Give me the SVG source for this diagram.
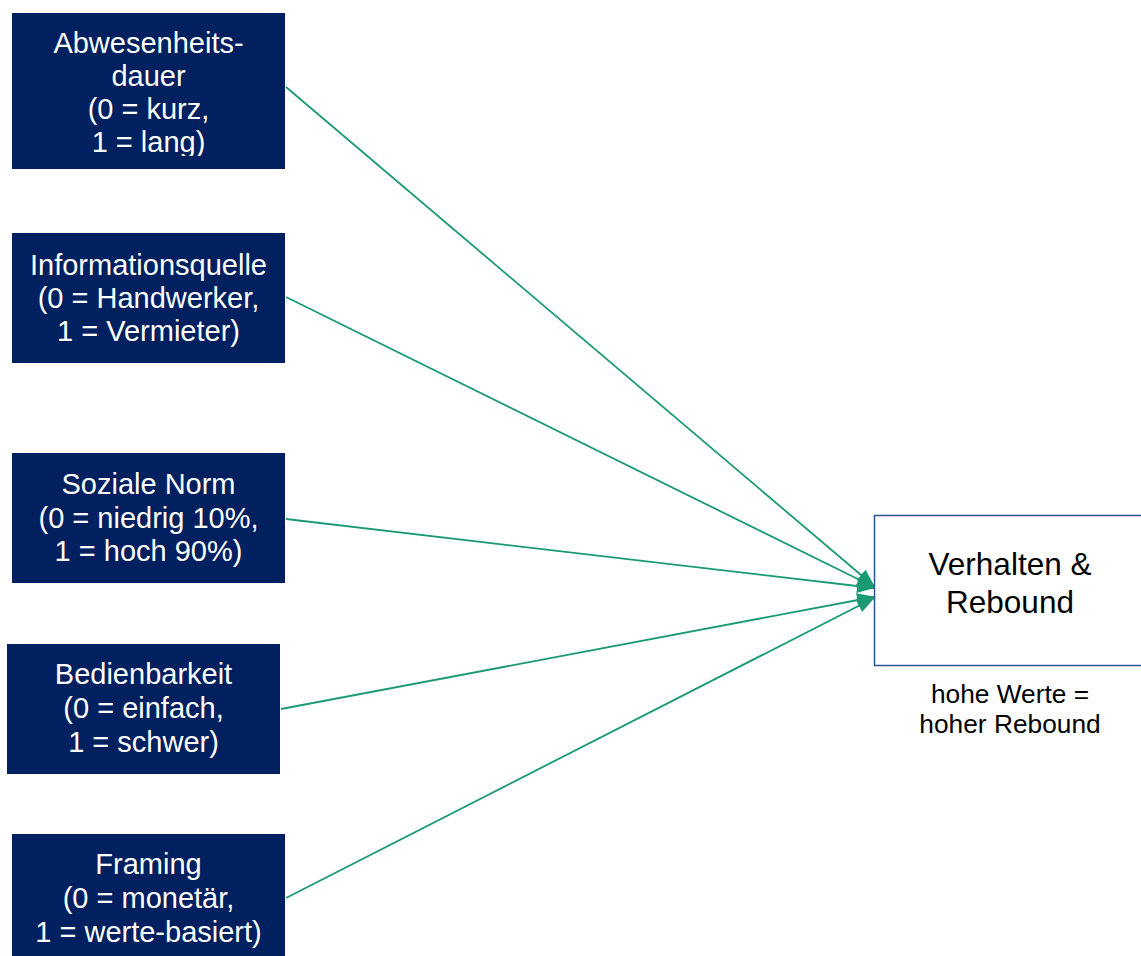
<svg xmlns="http://www.w3.org/2000/svg" width="1141" height="956" viewBox="0 0 1141 956">
<style>
.node{fill:#002060}
.nt{font-family:"Liberation Sans",Arial,sans-serif;font-size:29px;fill:#fff;text-anchor:middle}
.tt{font-family:"Liberation Sans",Arial,sans-serif;font-size:31.5px;fill:#000;text-anchor:middle}
.st{font-family:"Liberation Sans",Arial,sans-serif;font-size:26.3px;fill:#000;text-anchor:middle}
.edge{stroke:#1A9A73;stroke-width:1.8;fill:none;marker-end:url(#ah)}
</style>
<defs>
<marker id="ah" markerUnits="userSpaceOnUse" markerWidth="18" markerHeight="14" refX="17" refY="7" orient="auto">
<path d="M0,0 L18,7 L0,14 Z" fill="#1A9A73"/>
</marker>
<clipPath id="c1"><rect x="12" y="13" width="273" height="143"/></clipPath>
</defs>
<rect width="1141" height="956" fill="#fff"/>
<g id="connectors">
<line class="edge" x1="286" y1="87" x2="874" y2="586"/>
<line class="edge" x1="286" y1="297" x2="874" y2="587"/>
<line class="edge" x1="286" y1="519" x2="874" y2="588"/>
<line class="edge" x1="281" y1="709" x2="874" y2="597"/>
<line class="edge" x1="286" y1="898" x2="874" y2="598"/>
</g>
<g id="n1">
<rect class="node" x="12" y="13" width="273" height="156"/>
<g clip-path="url(#c1)">
<text class="nt" x="148.5" y="53">Abwesenheits-</text>
<text class="nt" x="148.5" y="86">dauer</text>
<text class="nt" x="148.5" y="119">(0 = kurz,</text>
<text class="nt" x="148.5" y="152">1 = lang)</text>
</g>
</g>
<g id="n2">
<rect class="node" x="12" y="233" width="273" height="130"/>
<text class="nt" x="148.5" y="275">Informationsquelle</text>
<text class="nt" x="148.5" y="308">(0 = Handwerker,</text>
<text class="nt" x="148.5" y="341">1 = Vermieter)</text>
</g>
<g id="n3">
<rect class="node" x="12" y="453" width="273" height="130"/>
<text class="nt" x="148.5" y="494">Soziale Norm</text>
<text class="nt" x="148.5" y="528">(0 = niedrig 10%,</text>
<text class="nt" x="148.5" y="561">1 = hoch 90%)</text>
</g>
<g id="n4">
<rect class="node" x="7" y="644" width="273" height="130"/>
<text class="nt" x="143.5" y="684">Bedienbarkeit</text>
<text class="nt" x="143.5" y="718">(0 = einfach,</text>
<text class="nt" x="143.5" y="752">1 = schwer)</text>
</g>
<g id="n5">
<rect class="node" x="12" y="834" width="273" height="122"/>
<text class="nt" x="148.5" y="874">Framing</text>
<text class="nt" x="148.5" y="908">(0 = monetär,</text>
<text class="nt" x="148.5" y="942">1 = werte-basiert)</text>
</g>
<g id="target">
<rect x="874.5" y="515.5" width="280" height="150" fill="#fff" stroke="#2F5597" stroke-width="1.5"/>
<text class="tt" x="1010" y="575">Verhalten &amp;</text>
<text class="tt" x="1010" y="613">Rebound</text>
<text class="st" x="1010" y="703">hohe Werte =</text>
<text class="st" x="1010" y="733">hoher Rebound</text>
</g>
</svg>
